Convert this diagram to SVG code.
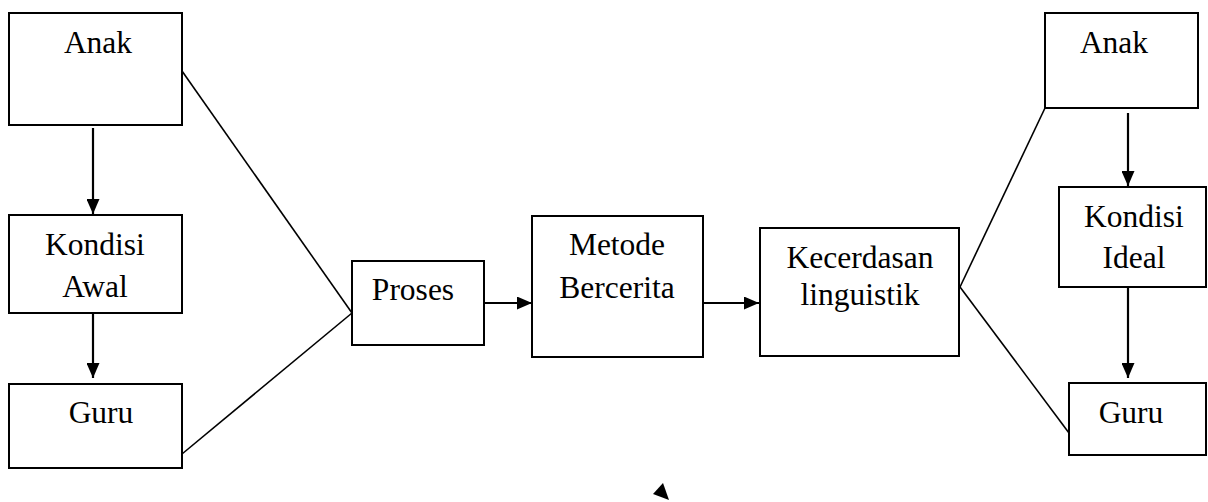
<svg xmlns="http://www.w3.org/2000/svg" width="1208" height="502" viewBox="0 0 1208 502">
<defs>
<style>
.box{fill:#fff;stroke:#000;stroke-width:2}
.lbl{font-family:'Liberation Serif','Times New Roman','DejaVu Serif',serif;font-size:31.5px;fill:#000;text-anchor:middle}
.ln{stroke:#000;stroke-width:1.6;fill:none}
.ar{stroke:#000;stroke-width:2.2;fill:none;marker-end:url(#ah)}
</style>
<marker id="ah" markerUnits="userSpaceOnUse" markerWidth="15" markerHeight="13" refX="15" refY="6.5" orient="auto">
<path d="M0,0 L15,6.5 L0,13 z" fill="#000"/>
</marker>
</defs>
<rect width="1208" height="502" fill="#fff"/>
<g id="connectors">
<line class="ar" x1="93" y1="128" x2="93" y2="214"/>
<line class="ar" x1="93" y1="313" x2="93" y2="378"/>
<line class="ln" x1="182" y1="71" x2="352" y2="313"/>
<line class="ln" x1="182" y1="454" x2="352" y2="313"/>
<line class="ar" x1="484" y1="303" x2="532" y2="303"/>
<line class="ar" x1="703" y1="303" x2="759" y2="303"/>
<line class="ln" x1="960" y1="287" x2="1045" y2="108"/>
<line class="ln" x1="960" y1="287" x2="1069" y2="433"/>
<line class="ar" x1="1128" y1="113" x2="1128" y2="186"/>
<line class="ar" x1="1128" y1="287" x2="1128" y2="378"/>
<polygon points="663,483 653,494 669,500" fill="#000"/>
</g>
<g id="anak-left"><rect class="box" x="9" y="13" width="173" height="112"/><text class="lbl" x="98" y="53" font-family="Liberation Serif">Anak</text></g>
<g id="kondisi-awal"><rect class="box" x="9" y="215" width="173" height="98"/><text class="lbl" x="95" y="255">Kondisi</text><text class="lbl" x="95" y="297">Awal</text></g>
<g id="guru-left"><rect class="box" x="9" y="384" width="173" height="84"/><text class="lbl" x="101" y="423">Guru</text></g>
<g id="proses"><rect class="box" x="352" y="261" width="132" height="84"/><text class="lbl" x="413" y="300">Proses</text></g>
<g id="metode"><rect class="box" x="532" y="216" width="171" height="141"/><text class="lbl" x="617" y="255">Metode</text><text class="lbl" x="617" y="298">Bercerita</text></g>
<g id="kecerdasan"><rect class="box" x="760" y="228" width="199" height="128"/><text class="lbl" x="860" y="268">Kecerdasan</text><text class="lbl" x="860" y="305">linguistik</text></g>
<g id="anak-right"><rect class="box" x="1045" y="13" width="153" height="95"/><text class="lbl" x="1114" y="53">Anak</text></g>
<g id="kondisi-ideal"><rect class="box" x="1059" y="187" width="147" height="100"/><text class="lbl" x="1134" y="227">Kondisi</text><text class="lbl" x="1134" y="268">Ideal</text></g>
<g id="guru-right"><rect class="box" x="1069" y="383" width="137" height="72"/><text class="lbl" x="1131" y="423">Guru</text></g>
</svg>
